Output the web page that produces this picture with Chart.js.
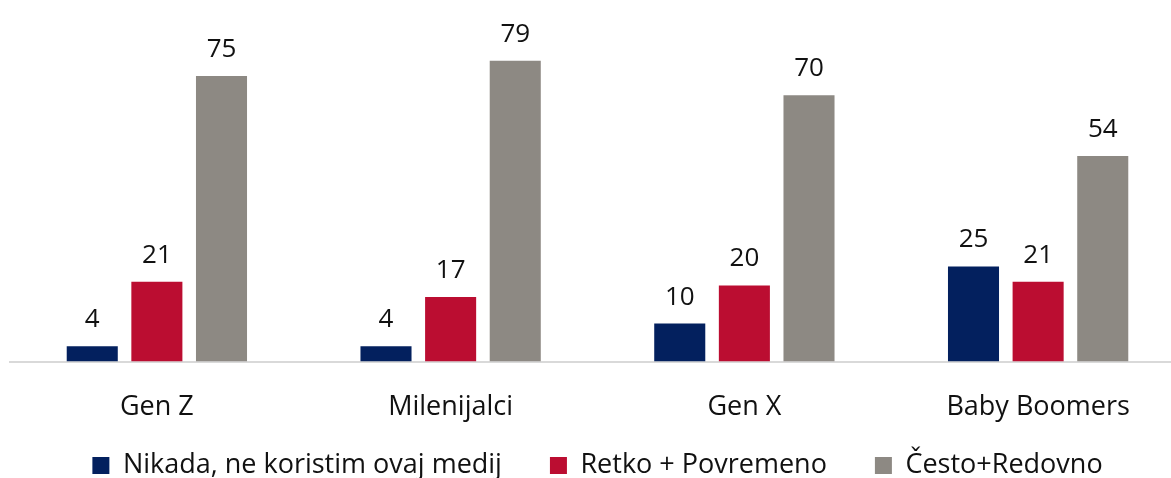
<!DOCTYPE html>
<html>
<head>
<meta charset="utf-8">
<script src="https://cdn.jsdelivr.net/npm/chart.js@4.4.0/dist/chart.umd.min.js"></script>
<style>
  html, body { margin: 0; padding: 0; background: #fff; overflow: hidden; }
  #wrap { width: 1185px; height: 478px; position: relative; }
</style>
</head>
<body>
<div id="wrap"><canvas id="chart"></canvas></div>
<script>
const categories = ['Gen Z', 'Milenijalci', 'Gen X', 'Baby Boomers'];
const seriesNames = ['Nikada, ne koristim ovaj medij', 'Retko + Povremeno', 'Često+Redovno'];
const nikada = [4, 4, 10, 25];
const retko = [21, 17, 20, 21];
const cesto = [75, 79, 70, 54];
const colors = ['#03205E', '#BB0D31', '#8D8983'];

const FONT = '"Open Sans", sans-serif';
const LEGEND_PAD = 48;

// draw the numbers above every bar
const barLabels = {
  id: 'barLabels',
  afterDatasetsDraw(chart) {
    const ctx = chart.ctx;
    ctx.save();
    ctx.font = '26px ' + FONT;
    ctx.fillStyle = '#111';
    ctx.textAlign = 'center';
    ctx.textBaseline = 'alphabetic';
    chart.data.datasets.forEach((ds, i) => {
      chart.getDatasetMeta(i).data.forEach((bar, j) => {
        ctx.fillText(ds.data[j], bar.x, bar.y - 19);
      });
    });
    ctx.restore();
  }
};

// legend padding sets the gap between items, pull the row up closer to the axis labels
const legendNudge = {
  id: 'legendNudge',
  afterLayout(chart) {
    const lg = chart.legend;
    if (lg) lg.top = 468 - LEGEND_PAD - 16;
  }
};

new Chart(document.getElementById('chart'), {
  type: 'bar',
  data: {
    labels: categories,
    datasets: [
      { label: seriesNames[0], data: nikada, backgroundColor: colors[0] },
      { label: seriesNames[1], data: retko, backgroundColor: colors[1] },
      { label: seriesNames[2], data: cesto, backgroundColor: colors[2] }
    ]
  },
  options: {
    responsive: true,
    maintainAspectRatio: false,
    animation: false,
    layout: { padding: { left: 10, right: 0, top: 19, bottom: 0 } },
    datasets: { bar: { categoryPercentage: 0.66, barPercentage: 0.79 } },
    scales: {
      x: {
        grid: { display: false },
        border: { display: true, color: '#D9D9D9', width: 2 },
        ticks: { color: '#111', font: { family: FONT, size: 27 }, padding: 22 }
      },
      y: {
        display: false,
        min: 0,
        max: 90
      }
    },
    plugins: {
      legend: {
        position: 'bottom',
        maxHeight: 32,
        labels: {
          color: '#111',
          font: { family: FONT, size: 27 },
          boxWidth: 17,
          boxHeight: 17,
          padding: LEGEND_PAD
        }
      },
      tooltip: { enabled: false }
    }
  },
  plugins: [barLabels, legendNudge]
});
</script>
</body>
</html>
